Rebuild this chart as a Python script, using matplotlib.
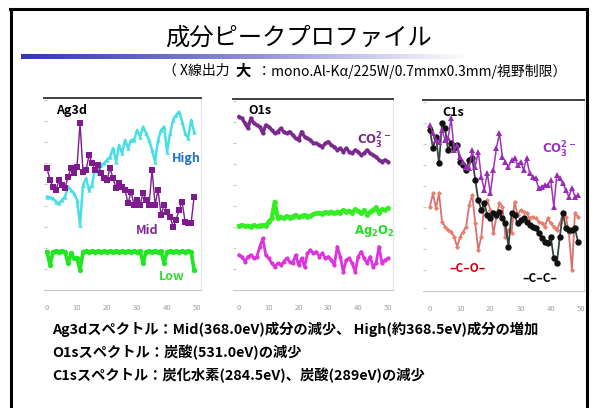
import numpy as np
import matplotlib
matplotlib.use("Agg")
import matplotlib.pyplot as plt
from matplotlib.colors import LinearSegmentedColormap
from matplotlib.lines import Line2D

plt.rcParams['font.family'] = ['Noto Sans CJK JP', 'DejaVu Sans']

# ---- data (relative peak intensity vs. measurement number) ----
x_ticks = [0, 10, 20, 30, 40, 50]

ag3d_high = [48.6, 48.3, 47.7, 46.0, 45.1, 46.9, 48.6, 53.8, 52.1, 50.3,
             46.9, 33.9, 54.7, 58.2, 52.1, 54.7, 63.4, 60.8, 65.1, 66.0,
             67.7, 69.4, 73.8, 66.8, 75.5, 71.2, 78.1, 73.8, 78.1, 78.1,
             83.3, 79.9, 85.1, 81.6, 78.1, 72.9, 66.8, 78.1, 83.3, 85.1,
             72.0, 81.6, 88.5, 91.1, 92.9, 87.7, 81.6, 79.0, 88.5, 82.5]
ag3d_mid = [63.4, 57.3, 53.8, 52.1, 57.3, 54.7, 53.0, 59.0, 63.4, 60.8,
            64.2, 86.8, 61.6, 62.5, 70.3, 66.0, 62.5, 65.1, 60.8, 58.2,
            57.3, 63.4, 58.2, 53.0, 55.6, 53.8, 52.1, 45.1, 51.2, 44.3,
            46.9, 44.3, 50.3, 46.9, 44.3, 62.5, 44.3, 52.1, 39.1, 44.3,
            40.8, 38.2, 33.0, 36.5, 41.7, 46.0, 35.6, 34.7, 34.7, 48.6]
ag3d_low = [20.0, 13.0, 20.0, 20.2, 20.0, 20.3, 19.8, 13.9, 19.1, 16.5,
            16.5, 10.4, 20.0, 20.1, 20.0, 20.2, 20.0, 20.1, 20.0, 20.2,
            20.0, 20.1, 20.0, 20.2, 20.0, 20.1, 20.0, 20.2, 20.0, 20.1,
            20.0, 20.2, 13.9, 20.0, 20.1, 20.0, 20.2, 20.0, 20.1, 13.9,
            20.0, 20.2, 20.0, 20.1, 20.0, 20.2, 20.0, 20.1, 20.0, 10.4]

o1s_co3 = [90.8, 89.9, 87.3, 84.6, 89.9, 87.3, 86.4, 85.5, 82.0, 86.4,
           85.5, 83.8, 82.0, 82.9, 84.6, 82.9, 82.0, 82.9, 81.2, 79.4,
           78.5, 82.9, 80.3, 79.4, 78.5, 76.8, 76.8, 75.9, 75.0, 76.8,
           77.7, 75.9, 75.0, 73.3, 74.2, 72.4, 74.2, 72.4, 71.6, 73.3,
           72.4, 70.7, 71.6, 73.3, 71.6, 70.7, 69.8, 68.1, 67.2, 68.1, 67.2]
o1s_ag2o2 = [33.5, 34.0, 33.5, 33.7, 33.2, 33.9, 33.5, 33.7, 34.0, 33.5,
             35.8, 37.5, 46.2, 37.5, 38.4, 37.5, 38.7, 37.9, 38.4, 39.3,
             38.0, 38.7, 39.3, 38.4, 38.7, 39.8, 40.1, 40.5, 39.8, 40.8,
             40.5, 41.0, 40.1, 41.0, 40.5, 41.9, 41.0, 41.5, 40.5, 42.2,
             41.5, 40.1, 41.9, 39.3, 41.0, 41.9, 43.3, 40.5, 42.2, 41.9, 42.8]
o1s_other = [18.3, 17.5, 14.8, 17.5, 18.3, 16.6, 17.5, 22.7, 27.1, 18.3,
             16.6, 14.0, 12.2, 14.0, 13.1, 14.8, 16.6, 14.8, 14.0, 18.3,
             13.1, 16.6, 12.2, 19.2, 20.9, 19.2, 20.1, 17.5, 19.2, 16.6,
             17.5, 15.7, 13.1, 22.7, 17.5, 9.6, 15.7, 16.6, 14.0, 9.6,
             17.5, 20.1, 16.6, 14.0, 17.5, 12.2, 14.0, 22.7, 14.0, 15.7, 16.6]

c1s_co3 = [86.9, 82.5, 79.1, 78.2, 84.3, 79.1, 79.9, 90.4, 73.8, 76.4,
           70.3, 67.7, 65.1, 64.2, 73.8, 65.1, 72.9, 59.9, 52.9, 61.6,
           51.1, 63.4, 74.7, 82.5, 70.3, 67.7, 65.1, 68.6, 69.5, 66.0,
           67.7, 63.4, 69.5, 61.6, 59.9, 59.0, 53.8, 54.6, 55.5, 55.5,
           58.1, 44.2, 60.7, 59.0, 56.4, 52.9, 49.4, 53.8, 49.4, 50.3]
c1s_cc = [84.3, 74.7, 80.8, 66.8, 87.8, 85.2, 73.8, 77.3, 74.7, 76.4,
          67.7, 66.0, 63.4, 68.6, 69.5, 58.1, 47.6, 42.4, 45.9, 39.8,
          38.0, 40.7, 39.8, 41.5, 38.0, 35.4, 23.2, 40.7, 39.8, 35.4,
          37.2, 38.0, 36.3, 34.6, 33.7, 32.8, 30.2, 27.6, 25.8, 25.0,
          28.4, 17.1, 14.5, 28.4, 40.7, 32.8, 32.0, 32.0, 32.8, 25.8]
c1s_co = [44.2, 51.1, 43.3, 51.1, 36.3, 33.7, 31.9, 31.1, 28.4, 23.2,
          28.4, 31.1, 33.7, 45.0, 50.3, 35.4, 21.5, 28.4, 45.9, 47.6,
          42.4, 30.2, 38.9, 45.9, 44.2, 28.4, 31.9, 30.2, 46.8, 39.8,
          42.4, 41.5, 40.7, 38.0, 38.9, 38.0, 36.3, 35.4, 33.7, 38.0,
          35.4, 33.7, 31.9, 35.4, 40.7, 38.9, 30.2, 11.0, 40.7, 38.9]

W, H = 595, 408
fig = plt.figure(figsize=(W / 100, H / 100), dpi=100)
fig.patch.set_facecolor("white")


def fx(px):
    return px / W


def fy(py):
    return 1 - py / H


def ftext(px, py, s, **kw):
    return fig.text(fx(px), fy(py), s, **kw)


# slide frame
for (x0, y0, x1, y1) in [(10, 9, 587, 9), (10.5, 9, 10.5, 408), (586.5, 9, 586.5, 408)]:
    fig.add_artist(Line2D([fx(x0), fx(x1)], [fy(y0), fy(y1)], color="black",
                          lw=2.2, transform=fig.transFigure))

# title
ftext(298, 38, "成分ピークプロファイル", fontsize=17.5, ha="center", va="center")

# gradient underline
gax = fig.add_axes([fx(21), fy(59), fx(470) - fx(21), fy(54) - fy(59)])
cmap = LinearSegmentedColormap.from_list("bar", ["#3434bc", "#8c8cd8", "#ffffff"])
gax.imshow(np.linspace(0, 1, 256)[None, :], aspect="auto", cmap=cmap)
gax.axis("off")

# subtitle
sub_y = 71
t1 = ftext(163, sub_y, "（ X線出力  ", fontsize=10, ha="left", va="center")
fig.canvas.draw()
r = fig.canvas.get_renderer()
bb = t1.get_window_extent(r)
t2 = fig.text(bb.x1 / W, fy(sub_y), "大", fontsize=11, fontweight="bold",
              ha="left", va="center")
bb2 = t2.get_window_extent(r)
fig.text(bb2.x1 / W, fy(sub_y), "  ：mono.Al-Kα/225W/0.7mmx0.3mm/視野制限）",
         fontsize=10, ha="left", va="center")


def make_panel(l, t, rgt, b, xlim):
    ax = fig.add_axes([fx(l), fy(b), fx(rgt) - fx(l), fy(t) - fy(b)])
    ax.set_xlim(*xlim)
    ax.set_ylim(0, 100)
    ax.set_xticks(x_ticks)
    ax.set_xticklabels([str(v) for v in x_ticks])
    ax.tick_params(axis="x", length=0, pad=10, labelsize=5.5, labelcolor="#a0a0a0")
    ax.set_yticks(np.arange(11, 100, 11))
    ax.tick_params(axis="y", direction="in", length=2.5, color="#c8c8c8",
                   labelleft=False)
    ax.spines["top"].set_color("#404040")
    ax.spines["top"].set_linewidth(1.4)
    ax.spines["bottom"].set_color("#c8c8c8")
    ax.spines["right"].set_color("#e4e4e4")
    ax.spines["left"].set_visible(False)
    return ax


# ---- Ag3d ----
ax1 = make_panel(44, 98, 201, 290, (-1, 51.3))
ax1.plot(np.arange(len(ag3d_high)), ag3d_high, color="#48dfe4", lw=1.8,
         marker="^", ms=3.2, mew=0)
ax1.plot(np.arange(len(ag3d_mid)), ag3d_mid, color="#7e1c8e", lw=1.0,
         marker="s", ms=5, mew=0)
ax1.plot(np.arange(len(ag3d_low)), ag3d_low, color="#22e622", lw=2.6,
         marker="o", ms=3.8, mew=0)
ftext(56, 111, "Ag3d", fontsize=9, fontweight="bold", va="center")
ftext(186, 159, "High", fontsize=9, fontweight="bold", color="#1f72c8",
      ha="center", va="center")
ftext(147, 230, "Mid", fontsize=9, fontweight="bold", color="#7e2a92",
      ha="center", va="center")
ftext(172, 277, "Low", fontsize=9, fontweight="bold", color="#33dd33",
      ha="center", va="center")

# ---- O1s ----
ax2 = make_panel(233, 99, 393, 290, (-2, 51.7))
ax2.plot(np.arange(len(o1s_co3)), o1s_co3, color="#7a2a8c", lw=2.4,
         marker="o", ms=3, mew=0)
ax2.plot(np.arange(len(o1s_ag2o2)), o1s_ag2o2, color="#33ee22", lw=3.0,
         marker="o", ms=3.5, mew=0)
ax2.plot(np.arange(len(o1s_other)), o1s_other, color="#dd33dd", lw=2.0,
         marker="o", ms=3, mew=0)
ftext(248, 111, "O1s", fontsize=9, fontweight="bold", va="center")
ftext(374, 141, r"$\mathbf{CO_3^{2-}}$", fontsize=8.5, color="#7a2a92",
      ha="center", va="center")
ftext(374, 231, r"$\mathbf{Ag_2O_2}$", fontsize=8.5, color="#22dd22",
      ha="center", va="center")

# ---- C1s ----
ax3 = make_panel(423, 100, 584, 291, (-2.3, 51.0))
ax3.plot(np.arange(len(c1s_co)), c1s_co, color="#d87272", lw=1.3,
         marker="D", ms=2.6, mew=0, mfc="#e8806e")
ax3.plot(np.arange(len(c1s_cc)), c1s_cc, color="#37473d", lw=1.3,
         marker="o", ms=4.6, mew=0, mfc="#111111")
ax3.plot(np.arange(len(c1s_co3)), c1s_co3, color="#a033b8", lw=1.1,
         marker="^", ms=4.5, mew=0, mfc="#9a2cb4")
ftext(442, 112, "C1s", fontsize=9, fontweight="bold", va="center")
ftext(559, 150, r"$\mathbf{CO_3^{2-}}$", fontsize=8.5, color="#9933bb",
      ha="center", va="center")
ftext(467, 269, "‒C‒O‒", fontsize=8.5, fontweight="bold", color="#cc0000",
      ha="center", va="center")
ftext(540, 278, "‒C‒C‒", fontsize=8.5, fontweight="bold", color="black",
      ha="center", va="center")

# ---- summary lines ----
lines = [
    "Ag3dスペクトル：Mid(368.0eV)成分の減少、 High(約368.5eV)成分の増加",
    "O1sスペクトル：炭酸(531.0eV)の減少",
    "C1sスペクトル：炭化水素(284.5eV)、炭酸(289eV)の減少",
]
for i, s in enumerate(lines):
    ftext(52, 329 + 23 * i, s, fontsize=10.3, fontweight="bold", va="center")

fig.savefig("out.png", dpi=100, facecolor="white")
